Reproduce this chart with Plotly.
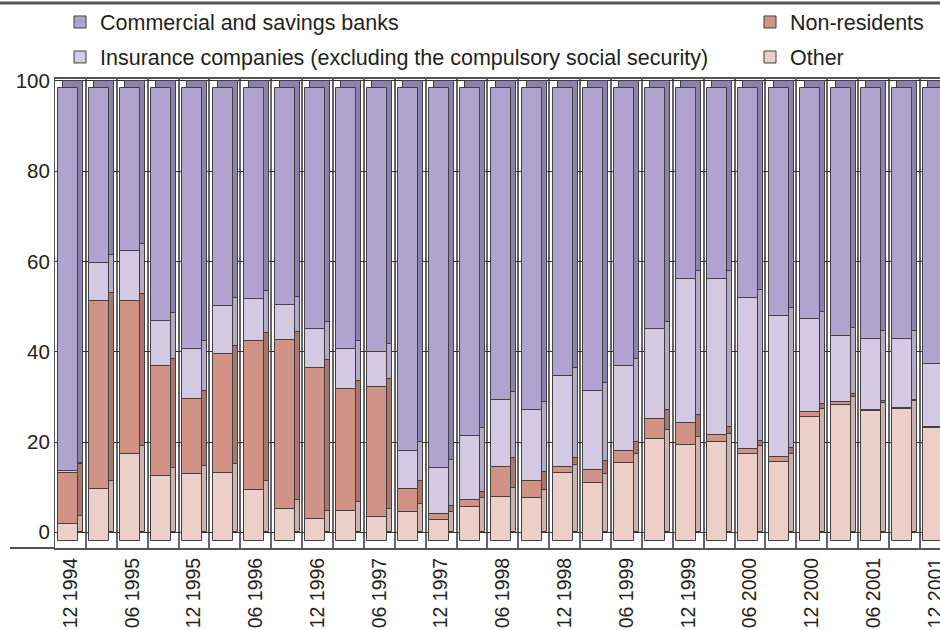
import numpy as np
import plotly.graph_objects as go

# ---- data (shares in %) ----
quarters = ["12 1994", "03 1995", "06 1995", "09 1995", "12 1995", "03 1996", "06 1996",
            "09 1996", "12 1996", "03 1997", "06 1997", "09 1997", "12 1997", "03 1998",
            "06 1998", "09 1998", "12 1998", "03 1999", "06 1999", "09 1999", "12 1999",
            "03 2000", "06 2000", "09 2000", "12 2000", "03 2001", "06 2001", "09 2001",
            "12 2001"]
other = [3.7, 11.4, 19.2, 14.3, 14.7, 15.1, 11.3, 7.1, 4.8, 6.7, 5.2, 6.3, 4.6, 7.6, 9.8,
         9.4, 14.9, 12.9, 17.3, 22.6, 21.2, 21.8, 19.2, 17.4, 27.4, 29.9, 28.6, 29.1, 24.9]
non_residents = [11.4, 41.6, 33.7, 24.2, 16.6, 26.2, 32.9, 37.2, 33.3, 26.8, 28.8, 5.1, 1.3,
                 1.4, 6.6, 3.9, 1.5, 2.8, 2.6, 4.4, 4.8, 1.5, 1.0, 1.2, 1.1, 0.7, 0.4, 0.3, 0.3]
insurance = [0.3, 8.4, 11.0, 10.1, 11.0, 10.6, 9.3, 7.8, 8.6, 8.8, 7.7, 8.5, 10.1, 14.2, 14.7,
             15.5, 19.9, 17.4, 18.6, 19.7, 31.9, 34.6, 33.5, 31.0, 20.4, 14.7, 15.6, 15.2, 13.8]
banks = [84.6, 38.6, 36.1, 51.4, 57.7, 48.1, 46.5, 47.9, 53.3, 57.7, 58.3, 80.1, 84.0, 76.8,
         68.9, 71.2, 63.7, 66.9, 61.5, 53.3, 42.1, 42.1, 46.3, 50.4, 51.1, 54.7, 55.4, 55.4, 61.0]
tick_labels = quarters[::2]

series = [
    ("Other", other, "#EBCFC8", "#CDB2AB", "legend4"),
    ("Non-residents", non_residents, "#D09385", "#A9776C", "legend2"),
    ("Insurance companies (excluding the compulsory social security)", insurance,
     "#D3C9E3", "#B3AAC6", "legend3"),
    ("Commercial and savings banks", banks, "#AFA3CF", "#8C82B0", "legend"),
]

x = np.arange(len(quarters))
FONT = "Liberation Sans, Arial, sans-serif"
TXT = "#222222"
EDGE = "#404040"
SLOT = 30.89  # px per category

fig = go.Figure()
base = np.zeros(len(quarters))
bases = []
for name, vals, c_front, c_side, lg in series:
    bases.append(base.copy())
    base = base + np.array(vals)

# back (depth) faces on the tick axis
for (name, vals, c_front, c_side, lg), b in zip(series, bases):
    fig.add_trace(go.Bar(x=x, y=vals, base=b, offset=-0.231, width=0.647,
                         marker=dict(color=c_side, line=dict(color=EDGE, width=1)),
                         showlegend=False, hoverinfo="skip", yaxis="y"))
# front faces
for (name, vals, c_front, c_side, lg), b in zip(series, bases):
    fig.add_trace(go.Bar(x=x, y=vals, base=b, offset=-0.393, width=0.647, name=name,
                         marker=dict(color=c_front, line=dict(color=EDGE, width=1)),
                         legend=lg, yaxis="y2"))

PLOT_L, PLOT_T, PLOT_B = 55, 79, 548
PW, PH = 940 - PLOT_L, PLOT_B - PLOT_T


def px_x(p):
    return (p - PLOT_L) / PW


def px_y(p):
    return (PLOT_B - p) / PH


def leg(xp, yp):
    return dict(x=px_x(xp), y=px_y(yp), xanchor="left", yanchor="middle",
                bgcolor="rgba(0,0,0,0)", font=dict(family=FONT, size=21.5, color=TXT),
                borderwidth=0)


fig.update_layout(
    width=940, height=630,
    margin=dict(l=PLOT_L, r=0, t=PLOT_T, b=630 - PLOT_B, autoexpand=False),
    paper_bgcolor="white", plot_bgcolor="white",
    barmode="overlay", bargap=0,
    font=dict(family=FONT, size=20, color=TXT),
    legend=leg(60, 22), legend2=leg(750, 22), legend3=leg(60, 57), legend4=leg(750, 57),
    xaxis=dict(range=[-0.5, -0.5 + PW / SLOT], tickmode="array", tickvals=x[::2],
               ticktext=tick_labels, tickangle=-90, showgrid=False, ticks="",
               ticklabeloverflow="allow", ticklabelstandoff=0, automargin=False,
               tickfont=dict(size=19.5, color=TXT), showline=True, mirror=True,
               linecolor="#555555", linewidth=2, zeroline=False,
               minor=dict(tickmode="linear", tick0=0.5, dtick=1, showgrid=True,
                          gridcolor="#666666", gridwidth=2, ticks="")),
    yaxis=dict(range=[-3.48, 100.44], tickvals=[0, 20, 40, 60, 80, 100], showgrid=True,
               gridcolor="#333333", gridwidth=1, zeroline=False, showline=True,
               linecolor="#555555", linewidth=1, ticks="", automargin=False,
               tickfont=dict(size=20.5, color=TXT)),
    yaxis2=dict(range=[-1.54, 101.92], overlaying="y", visible=False),
    shapes=[
        dict(type="line", xref="paper", yref="paper", x0=px_x(0), x1=1,
             y0=px_y(3), y1=px_y(3), line=dict(color="#555555", width=3)),
        dict(type="line", xref="paper", yref="paper", x0=px_x(10), x1=0,
             y0=0, y1=0, line=dict(color="#555555", width=2)),
    ],
)

fig.write_html("out.html")
